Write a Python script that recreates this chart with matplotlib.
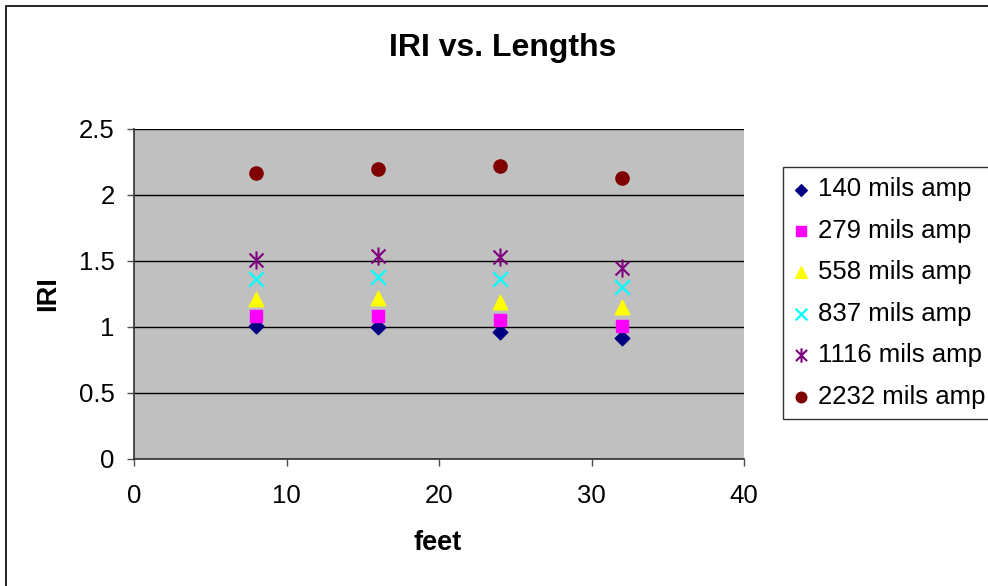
import matplotlib
matplotlib.use("Agg")
import matplotlib.pyplot as plt
from matplotlib.path import Path
from matplotlib.patches import Rectangle

plt.rcParams['font.family'] = ['Liberation Sans', 'DejaVu Sans']

feet = [8, 16, 24, 32]
s140 = [1.01, 1.00, 0.96, 0.92]
s279 = [1.08, 1.08, 1.05, 1.01]
s558 = [1.21, 1.22, 1.19, 1.15]
s837 = [1.36, 1.38, 1.36, 1.30]
s1116 = [1.51, 1.54, 1.53, 1.45]
s2232 = [2.17, 2.20, 2.22, 2.13]
labels = ["140 mils amp", "279 mils amp", "558 mils amp",
          "837 mils amp", "1116 mils amp", "2232 mils amp"]

star = Path([(-1, -1), (1, 1), (-1, 1), (1, -1), (0, -1.3), (0, 1.3)],
            [Path.MOVETO, Path.LINETO, Path.MOVETO, Path.LINETO, Path.MOVETO, Path.LINETO])

W, H = 988, 586
fig = plt.figure(figsize=(W / 100, H / 100), dpi=100)
fig.patches.append(Rectangle((6 / W, -0.1), 1.2, (H - 6) / H + 0.1, transform=fig.transFigure,
                             fill=False, edgecolor='black', linewidth=1.2))

ax = fig.add_axes([134 / W, 1 - 459 / H, (744 - 134) / W, (459 - 129) / H])
ax.set_facecolor('#c0c0c0')

ax.scatter(feet, s140, marker='D', s=55, color='#000080', zorder=3, label=labels[0])
ax.scatter(feet, s279, marker='s', s=75, color='#ff00ff', zorder=3, label=labels[1])
ax.scatter(feet, s558, marker='^', s=110, color='#ffff00', zorder=3, label=labels[2])
ax.scatter(feet, s837, marker='x', s=110, color='#00ffff', linewidths=1.6, zorder=3, label=labels[3])
ax.scatter(feet, s1116, marker=star, s=170, color='#800080', linewidths=1.5, zorder=3, label=labels[4])
ax.scatter(feet, s2232, marker='o', s=90, color='#800000', zorder=3, label=labels[5])

ax.set_xlim(0, 40)
ax.set_ylim(0, 2.5)
ax.set_xticks([0, 10, 20, 30, 40])
ax.set_yticks([0, 0.5, 1, 1.5, 2, 2.5])
ax.set_yticklabels(['0', '0.5', '1', '1.5', '2', '2.5'])
ax.yaxis.grid(True, color='black', linewidth=1.0)
ax.set_axisbelow(True)
for sp in ['top', 'right']:
    ax.spines[sp].set_visible(False)
for sp in ['left', 'bottom']:
    ax.spines[sp].set_color('#303030')
    ax.spines[sp].set_linewidth(1.2)
ax.tick_params(axis='both', direction='out', length=5, width=1, color='#505050',
               labelsize=18.5)
ax.tick_params(axis='x', pad=13)
ax.tick_params(axis='y', pad=9)

fig.text(503 / W, 1 - 48 / H, 'IRI vs. Lengths', ha='center', va='center',
         fontsize=23, fontweight='bold')
fig.text(438 / W, 1 - 543 / H, 'feet', ha='center', va='center',
         fontsize=19.5, fontweight='bold')
fig.text(48 / W, 1 - 294 / H, 'IRI', ha='center', va='center', rotation=90,
         fontsize=19.5, fontweight='bold')

leg = fig.legend(loc='upper left', bbox_to_anchor=(783 / W, 1 - 167 / H),
                 fontsize=18.5, frameon=True, fancybox=False, edgecolor='black',
                 borderpad=0.4, labelspacing=0.68, handletextpad=0.35,
                 handlelength=0.6, borderaxespad=0, markerscale=0.8)
leg.get_frame().set_linewidth(1.0)

fig.savefig('out.png', dpi=100)
